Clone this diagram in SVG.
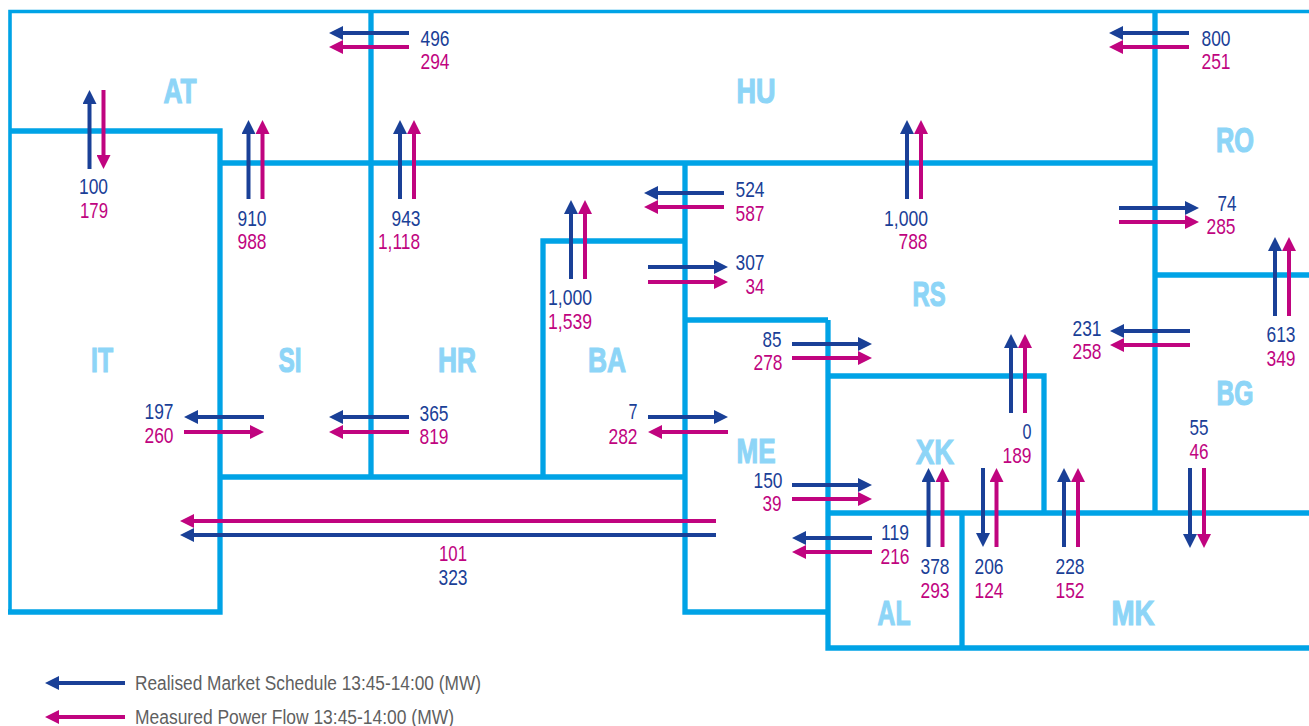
<svg xmlns="http://www.w3.org/2000/svg" width="1309" height="726" viewBox="0 0 1309 726">
<style>
.b{fill:none;stroke:#00a3e6;stroke-width:5.300}
.t{fill:none;stroke:#00a3e6;stroke-width:3.600;stroke-linecap:square}
.s{stroke:#1a4097;stroke-width:4;fill:none;marker-end:url(#mb)}
.m{stroke:#c0047f;stroke-width:4;fill:none;marker-end:url(#mm)}
text{font-family:"Liberation Sans",Arial,sans-serif;font-size:22px}
.n{fill:#1a4097;text-anchor:middle}
.p{fill:#c0047f;text-anchor:middle}
.z{fill:#8dd5f7;stroke:#8dd5f7;stroke-width:1.200;font-size:35px;font-weight:bold;text-anchor:middle}
.l{fill:#5f5f5f;font-size:20px}
</style>
<defs>
<marker id="mb" markerUnits="userSpaceOnUse" markerWidth="14" markerHeight="14" refX="0" refY="7" orient="auto"><path d="M0 0L14 7L0 14z" fill="#1a4097"/></marker>
<marker id="mm" markerUnits="userSpaceOnUse" markerWidth="14" markerHeight="14" refX="0" refY="7" orient="auto"><path d="M0 0L14 7L0 14z" fill="#c0047f"/></marker>
</defs>
<g id="borders">
<path class="t" d="M1309 11.500H10V612"/>
<path class="b" d="M8 612H220V131H10M220 163H1155M371 11.500V477M220 477H685M543 477V241H685M685 163V612H828M685 320H828M828 320V648H1309M828 376H1044V513M828 513H1309M962 513V648M1155 11.500V513M1155 275H1309"/>
</g>
<g id="connectors">
<path class="s" d="M409 33H343"/><path class="m" d="M409 47H343"/>
<path class="s" d="M1189 33H1123"/><path class="m" d="M1189 47H1123"/>
<path class="s" d="M89.500 169V104"/><path class="m" d="M103.500 90V155"/>
<path class="s" d="M248.500 199V134"/><path class="m" d="M262.500 199V134"/>
<path class="s" d="M400 199V134"/><path class="m" d="M414 199V134"/>
<path class="s" d="M907 199V134"/><path class="m" d="M921 199V134"/>
<path class="s" d="M571 279V214"/><path class="m" d="M585 279V214"/>
<path class="s" d="M724 193H658"/><path class="m" d="M724 207H658"/>
<path class="s" d="M648 267H714"/><path class="m" d="M648 282H714"/>
<path class="s" d="M1119 208H1185"/><path class="m" d="M1119 222H1185"/>
<path class="s" d="M1275 316V251"/><path class="m" d="M1289 316V251"/>
<path class="s" d="M1190 331H1124"/><path class="m" d="M1190 345H1124"/>
<path class="s" d="M792 344H858"/><path class="m" d="M792 358H858"/>
<path class="s" d="M1011 413V348"/><path class="m" d="M1025 413V348"/>
<path class="s" d="M264 417H198"/><path class="m" d="M184 432H250"/>
<path class="s" d="M409 417H343"/><path class="m" d="M409 432H343"/>
<path class="s" d="M648 417H714"/><path class="m" d="M728 432H662"/>
<path class="s" d="M792 485H858"/><path class="m" d="M792 499H858"/>
<path class="s" d="M1190 468V534"/><path class="m" d="M1204 468V534"/>
<path class="s" d="M928.500 547V482"/><path class="m" d="M942.500 547V482"/>
<path class="s" d="M983 468V533"/><path class="m" d="M996.500 547V482"/>
<path class="s" d="M1064 547V482"/><path class="m" d="M1078 547V482"/>
<path class="s" d="M872 538H806"/><path class="m" d="M872 552H806"/>
<path class="m" d="M716 521H194"/><path class="s" d="M716 535H194"/>
<path class="s" d="M125 683H59"/><path class="m" d="M125 717H59"/>
</g>
<g id="zones">
<text class="z" x="180" y="103" textLength="33" lengthAdjust="spacingAndGlyphs">AT</text><text class="z" x="756" y="103" textLength="39" lengthAdjust="spacingAndGlyphs">HU</text><text class="z" x="1235" y="152" textLength="38" lengthAdjust="spacingAndGlyphs">RO</text>
<text class="z" x="102" y="372" textLength="22" lengthAdjust="spacingAndGlyphs">IT</text><text class="z" x="290" y="372" textLength="23" lengthAdjust="spacingAndGlyphs">SI</text><text class="z" x="457" y="372" textLength="38" lengthAdjust="spacingAndGlyphs">HR</text><text class="z" x="607" y="372" textLength="38" lengthAdjust="spacingAndGlyphs">BA</text>
<text class="z" x="929" y="306" textLength="33" lengthAdjust="spacingAndGlyphs">RS</text><text class="z" x="1235" y="405" textLength="37" lengthAdjust="spacingAndGlyphs">BG</text><text class="z" x="756" y="463" textLength="39" lengthAdjust="spacingAndGlyphs">ME</text><text class="z" x="935" y="464" textLength="38" lengthAdjust="spacingAndGlyphs">XK</text>
<text class="z" x="894" y="625" textLength="33" lengthAdjust="spacingAndGlyphs">AL</text><text class="z" x="1133" y="625" textLength="43" lengthAdjust="spacingAndGlyphs">MK</text>
</g>
<g id="values">
<text class="n" x="435" y="46" textLength="29" lengthAdjust="spacingAndGlyphs">496</text><text class="p" x="435" y="69" textLength="29" lengthAdjust="spacingAndGlyphs">294</text>
<text class="n" x="1216" y="46" textLength="29" lengthAdjust="spacingAndGlyphs">800</text><text class="p" x="1216" y="69" textLength="29" lengthAdjust="spacingAndGlyphs">251</text>
<text class="n" x="93.500" y="194" textLength="29" lengthAdjust="spacingAndGlyphs">100</text><text class="p" x="94" y="218" textLength="28" lengthAdjust="spacingAndGlyphs">179</text>
<text class="n" x="252" y="226" textLength="29" lengthAdjust="spacingAndGlyphs">910</text><text class="p" x="252" y="249" textLength="29" lengthAdjust="spacingAndGlyphs">988</text>
<text class="n" x="406" y="226" textLength="29" lengthAdjust="spacingAndGlyphs">943</text><text class="p" x="399" y="249" textLength="42" lengthAdjust="spacingAndGlyphs">1,118</text>
<text class="n" x="906" y="226" textLength="44" lengthAdjust="spacingAndGlyphs">1,000</text><text class="p" x="913" y="249" textLength="29" lengthAdjust="spacingAndGlyphs">788</text>
<text class="n" x="570" y="305" textLength="44" lengthAdjust="spacingAndGlyphs">1,000</text><text class="p" x="570" y="329" textLength="44" lengthAdjust="spacingAndGlyphs">1,539</text>
<text class="n" x="750" y="197" textLength="29" lengthAdjust="spacingAndGlyphs">524</text><text class="p" x="750" y="221" textLength="29" lengthAdjust="spacingAndGlyphs">587</text>
<text class="n" x="750" y="270" textLength="29" lengthAdjust="spacingAndGlyphs">307</text><text class="p" x="755" y="294" textLength="19" lengthAdjust="spacingAndGlyphs">34</text>
<text class="n" x="1227" y="211" textLength="19" lengthAdjust="spacingAndGlyphs">74</text><text class="p" x="1221" y="234" textLength="29" lengthAdjust="spacingAndGlyphs">285</text>
<text class="n" x="1281" y="342" textLength="29" lengthAdjust="spacingAndGlyphs">613</text><text class="p" x="1281" y="366" textLength="29" lengthAdjust="spacingAndGlyphs">349</text>
<text class="n" x="1087" y="336" textLength="29" lengthAdjust="spacingAndGlyphs">231</text><text class="p" x="1087" y="359" textLength="29" lengthAdjust="spacingAndGlyphs">258</text>
<text class="n" x="772" y="347" textLength="19" lengthAdjust="spacingAndGlyphs">85</text><text class="p" x="768" y="370" textLength="29" lengthAdjust="spacingAndGlyphs">278</text>
<text class="n" x="1027" y="439" textLength="9" lengthAdjust="spacingAndGlyphs">0</text><text class="p" x="1017" y="463" textLength="29" lengthAdjust="spacingAndGlyphs">189</text>
<text class="n" x="159" y="419" textLength="29" lengthAdjust="spacingAndGlyphs">197</text><text class="p" x="159" y="443" textLength="29" lengthAdjust="spacingAndGlyphs">260</text>
<text class="n" x="434" y="421" textLength="29" lengthAdjust="spacingAndGlyphs">365</text><text class="p" x="434" y="444" textLength="29" lengthAdjust="spacingAndGlyphs">819</text>
<text class="n" x="633" y="419" textLength="9" lengthAdjust="spacingAndGlyphs">7</text><text class="p" x="623" y="444" textLength="29" lengthAdjust="spacingAndGlyphs">282</text>
<text class="n" x="768" y="488" textLength="29" lengthAdjust="spacingAndGlyphs">150</text><text class="p" x="772" y="511" textLength="19" lengthAdjust="spacingAndGlyphs">39</text>
<text class="n" x="1199" y="435" textLength="19" lengthAdjust="spacingAndGlyphs">55</text><text class="p" x="1199" y="459" textLength="19" lengthAdjust="spacingAndGlyphs">46</text>
<text class="n" x="935" y="574" textLength="29" lengthAdjust="spacingAndGlyphs">378</text><text class="p" x="935" y="598" textLength="29" lengthAdjust="spacingAndGlyphs">293</text>
<text class="n" x="989" y="574" textLength="29" lengthAdjust="spacingAndGlyphs">206</text><text class="p" x="989" y="598" textLength="29" lengthAdjust="spacingAndGlyphs">124</text>
<text class="n" x="1070" y="574" textLength="29" lengthAdjust="spacingAndGlyphs">228</text><text class="p" x="1070" y="598" textLength="29" lengthAdjust="spacingAndGlyphs">152</text>
<text class="n" x="895" y="540" textLength="28" lengthAdjust="spacingAndGlyphs">119</text><text class="p" x="895" y="564" textLength="29" lengthAdjust="spacingAndGlyphs">216</text>
<text class="p" x="453" y="561" textLength="28" lengthAdjust="spacingAndGlyphs">101</text><text class="n" x="453" y="585" textLength="29" lengthAdjust="spacingAndGlyphs">323</text>
</g>
<g id="legend">
<text class="l" x="135" y="690" textLength="346" lengthAdjust="spacingAndGlyphs">Realised Market Schedule 13:45-14:00 (MW)</text>
<text class="l" x="135" y="724" textLength="319" lengthAdjust="spacingAndGlyphs">Measured Power Flow 13:45-14:00 (MW)</text>
</g>
</svg>
